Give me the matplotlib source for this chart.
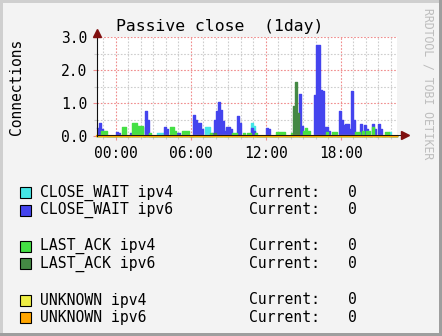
import numpy as np
import matplotlib
matplotlib.use("Agg")
import matplotlib.pyplot as plt
from matplotlib.patches import Rectangle

# Series, 10 minute samples (only the non-zero ones are listed)
cw4_times = ["03:20", "03:30", "03:40", "07:10", "07:20", "08:30", "10:50", "11:00",
             "21:40", "21:50"]
cw4_vals = [0.10, 0.10, 0.10, 0.26, 0.26, 0.24, 0.38, 0.30, 0.10, 0.12]

cw6_times = ["22:30", "22:40", "22:50", "00:00", "00:10", "01:10", "01:50", "02:00",
             "02:20", "02:30", "03:50", "04:00", "04:50", "05:00", "06:10", "06:20",
             "06:30", "06:40", "06:50", "07:40", "07:50", "08:00", "08:10", "08:20",
             "08:30", "08:40", "08:50", "09:00", "09:10", "09:40", "09:50", "10:50",
             "11:00", "12:00", "12:10", "14:40", "14:50", "15:50", "16:00", "16:10",
             "16:20", "16:30", "16:40", "16:50", "17:00", "17:50", "18:00", "18:10",
             "18:20", "18:30", "18:40", "18:50", "19:00", "19:30", "19:50", "20:00",
             "20:30", "20:40", "21:00", "21:10"]
cw6_vals = [0.24, 0.39, 0.20, 0.13, 0.10, 0.10, 0.24, 0.26,
            0.76, 0.50, 0.26, 0.20, 0.10, 0.10, 0.64, 0.50,
            0.39, 0.39, 0.20, 0.10, 0.49, 0.75, 1.04, 0.80,
            0.45, 0.15, 0.26, 0.26, 0.20, 0.62, 0.40, 0.23,
            0.15, 0.25, 0.20, 1.27, 0.30, 1.25, 2.77, 2.77,
            1.40, 1.35, 0.28, 0.28, 0.15, 0.76, 0.50, 0.33,
            0.36, 0.36, 0.20, 1.37, 0.50, 0.36, 0.33, 0.20,
            0.36, 0.20, 0.36, 0.20]

la4_times = ["22:50", "23:00", "23:10", "00:30", "00:40", "01:20", "01:30", "01:40",
             "01:50", "02:00", "02:40", "04:20", "04:30", "04:40", "05:20", "05:30",
             "05:40", "07:30", "09:20", "09:30", "10:10", "10:30", "10:40", "11:10",
             "12:50", "13:00", "13:10", "13:20", "14:00", "15:00", "15:10", "15:20",
             "16:50", "17:20", "17:30", "19:10", "19:20", "19:40", "20:00", "20:10",
             "20:30", "21:30", "21:40"]
la4_vals = [0.15, 0.15, 0.15, 0.26, 0.26, 0.39, 0.39, 0.30,
            0.30, 0.30, 0.10, 0.26, 0.26, 0.15, 0.15, 0.15,
            0.15, 0.10, 0.10, 0.10, 0.10, 0.10, 0.10, 0.10,
            0.12, 0.12, 0.12, 0.12, 0.10, 0.15, 0.25, 0.15,
            0.12, 0.12, 0.12, 0.13, 0.13, 0.15, 0.15, 0.15,
            0.28, 0.13, 0.13]

la6_times = ["07:50", "14:10", "14:20", "14:30"]
la6_vals = [0.10, 0.90, 1.63, 0.70]

unk4_times = []
unk4_vals = []
unk6_times = []
unk6_vals = []

labels = ["CLOSE_WAIT ipv4", "CLOSE_WAIT ipv6", "LAST_ACK ipv4", "LAST_ACK ipv6",
          "UNKNOWN ipv4", "UNKNOWN ipv6"]
colors = ["#44E6E6", "#4444EE", "#44E044", "#448844", "#EEEE44", "#FFA500"]
current = [0, 0, 0, 0, 0, 0]

x_ticks = [0, 6, 12, 18]
x_ticklabels = ["00:00", "06:00", "12:00", "18:00"]
y_ticks = [0, 1, 2, 3]

# time grid, hours relative to midnight, 22:30 the day before to 22:30
grid = np.arange(-1.5, 22.5 + 1e-9, 1 / 6)


def hours(s):
    h, m = map(int, s.split(":"))
    v = h + m / 60.0
    if v >= 22.5:
        v -= 24
    return v


def series(times, vals):
    y = np.zeros(len(grid))
    for t, v in zip(times, vals):
        y[int(round((hours(t) + 1.5) * 6))] = v
    return y


data = [series(cw4_times, cw4_vals), series(cw6_times, cw6_vals),
        series(la4_times, la4_vals), series(la6_times, la6_vals),
        series(unk4_times, unk4_vals), series(unk6_times, unk6_vals)]

W, H = 442, 336
mono = "DejaVu Sans Mono"
plt.rcParams["font.family"] = mono


def px(x, y):
    return x / W, 1 - y / H


fig = plt.figure(figsize=(W / 100, H / 100), dpi=100, facecolor="#9E9E9E")

# frame shading
fig.patches.append(Rectangle(px(0, 333), 439 / W, 333 / H, transform=fig.transFigure,
                             facecolor="#CFCFCF", edgecolor="none", zorder=-5))
fig.patches.append(Rectangle(px(3, 333), 436 / W, 330 / H, transform=fig.transFigure,
                             facecolor="#F3F3F3", edgecolor="none", zorder=-4))

ax = fig.add_axes([97 / W, 1 - 136 / H, 300 / W, 99 / H])
ax.set_facecolor("white")
ax.set_xlim(-1.5, 22.5)
ax.set_ylim(0, 3)
for s in ax.spines.values():
    s.set_visible(False)

ax.set_xticks(x_ticks)
ax.set_xticklabels(x_ticklabels)
ax.set_xticks(np.arange(-1, 23, 1), minor=True)
ax.set_yticks(y_ticks)
ax.set_yticklabels(["%.1f" % v for v in y_ticks])
ax.set_yticks([0.5, 1.5, 2.5], minor=True)
ax.set_axisbelow(True)
ax.grid(which="major", color="#F08C8C", linestyle=(0, (1.5, 1.5)), lw=0.8)
ax.grid(which="minor", color="#CDCDCD", linestyle=(0, (1.5, 1.5)), lw=0.8)
ax.tick_params(which="major", length=3, width=0.8, color="#F08C8C",
               labelsize=10.5, pad=4)
ax.tick_params(which="minor", length=2, width=0.8, color="#CDCDCD")

for y, c in zip(data, colors):
    ax.fill_between(grid, y, step="post", color=c, lw=0, zorder=2)
    ax.step(grid, y, where="post", color=c, lw=1.0, zorder=2, clip_on=False)

# UNKNOWN ipv6 line sits on the baseline, just under the axis
ax.step(grid, data[5], where="post", color=colors[5], lw=1.6, zorder=3,
        clip_on=False)

# axes with arrows
ax.plot([0, 1.01], [0.008, 0.008], transform=ax.transAxes, color="#101010", lw=0.7,
        clip_on=False, zorder=4)
ax.plot([0, 0], [0, 1.0], transform=ax.transAxes, color="#101010", lw=0.8,
        clip_on=False, zorder=4)
ax.plot([1.025], [0.008], transform=ax.transAxes, marker=">", ms=6, color="#801010",
        clip_on=False, zorder=5)
ax.plot([0], [1.045], transform=ax.transAxes, marker="^", ms=6, color="#801010",
        clip_on=False, zorder=5)

fig.text(*px(220, 26), "Passive close  (1day)", fontsize=11.8, ha="center", va="center")
fig.text(*px(17, 87), "Connections", fontsize=10.5, rotation=90, ha="center", va="center")
fig.text(*px(428, 84), "RRDTOOL / TOBI OETIKER", fontsize=8.3, rotation=270,
         ha="center", va="center", color="#BDBDBD")

# legend
rows_y = [192.5, 210, 246, 263.5, 300, 317.5]
for lab, c, cur, yy in zip(labels, colors, current, rows_y):
    fig.patches.append(Rectangle(px(20, yy + 5.5), 11 / W, 11 / H, transform=fig.transFigure,
                                 facecolor=c, edgecolor="black", lw=0.8, zorder=3))
    fig.text(*px(40, yy), lab, fontsize=10.6, ha="left", va="center")
    fig.text(*px(249, yy), "Current:", fontsize=10.6, ha="left", va="center")
    fig.text(*px(348, yy), str(cur), fontsize=10.6, ha="left", va="center")

fig.savefig("out.png", dpi=100, facecolor=fig.get_facecolor())
